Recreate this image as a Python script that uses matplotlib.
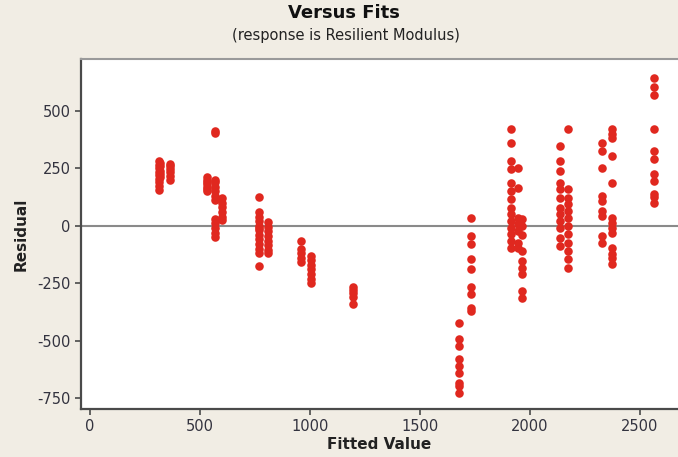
import matplotlib.pyplot as plt
import numpy as np

RED = "#e0281f"
BEIGE = "#f1ede4"
GREY = "#8a8a8a"
DARK = "#4a4a4a"

# fitted value of each column of points, and the residuals in that column
col_fits = [314, 318, 364,
            530, 568, 600,
            768, 809,
            960, 1004,
            1195,
            1677, 1732,
            1912, 1945, 1962,
            2136, 2173,
            2327, 2373,
            2564]
col_resid = [
    [280, 265, 250, 235, 220, 205, 190, 175, 155],
    [275, 258, 240, 225, 210],
    [270, 258, 245, 232, 215, 200],
    [210, 200, 190, 180, 170, 160, 150],
    [413, 405, 200, 190, 170, 150, 130, 110, 30, 10, -10, -30, -50],
    [120, 100, 80, 60, 40, 25],
    [126, 60, 40, 20, 0, -10, -20, -40, -60, -80, -100, -120, -174],
    [15, -5, -25, -45, -65, -85, -105, -118],
    [-65, -100, -120, -140, -160],
    [-130, -150, -170, -190, -210, -230, -250],
    [-265, -280, -295, -310, -340],
    [-423, -493, -523, -580, -611, -640, -685, -698, -728],
    [35, -44, -79, -144, -188, -266, -297, -358, -370],
    [419, 358, 283, 249, 188, 153, 118, 79, 52, 22, -9, -35, -65, -96],
    [253, 166, 35, 9, -22, -74, -96],
    [30, 0, -40, -110, -153, -183, -209, -283, -314],
    [349, 283, 240, 188, 161, 122, 79, 52, 22, -9, -52, -87],
    [423, 161, 122, 96, 65, 35, 0, -35, -74, -109, -144, -183],
    [362, 327, 253, 131, 109, 65, 44, -44, -74],
    [423, 401, 384, 305, 188, 35, 13, -9, -31, -96, -122, -140, -166],
    [645, 602, 567, 423, 327, 292, 227, 196, 140, 125, 100],
]
x_ticks = [0, 500, 1000, 1500, 2000, 2500]
y_ticks = [-750, -500, -250, 0, 250, 500]

fitted = np.concatenate([[f] * len(r) for f, r in zip(col_fits, col_resid)])
resid = np.concatenate(col_resid)

plt.rcParams["font.family"] = ["DejaVu Sans"]
plt.rcParams["axes.unicode_minus"] = False
fig = plt.figure(figsize=(6.78, 4.57), dpi=100)
fig.patch.set_facecolor(BEIGE)
ax = fig.add_axes([0.1195, 0.105, 0.8805, 0.766])
ax.set_facecolor("white")

ax.axhline(0, color=GREY, linewidth=1.5, zorder=1)
ax.scatter(fitted, resid, s=38, color=RED, linewidths=0, zorder=2)

ax.set_xlim(-41, 2673)
ax.set_ylim(-798, 726)
ax.set_xticks(x_ticks)
ax.set_yticks(y_ticks)
ax.tick_params(direction="out", length=4, width=1.2, color=DARK,
               labelsize=10.5, labelcolor="#33333f")

ax.spines["right"].set_visible(False)
ax.spines["top"].set_color("#9a9a9a")
ax.spines["top"].set_linewidth(1.5)
for side in ["left", "bottom"]:
    ax.spines[side].set_color(DARK)
    ax.spines[side].set_linewidth(1.6)

ax.set_xlabel("Fitted Value", fontsize=11, fontweight="bold", color="#222222", labelpad=2)
ax.set_ylabel("Residual", fontsize=11, fontweight="bold", color="#222222", labelpad=6)

fig.text(0.508, 0.972, "Versus Fits", ha="center", va="center",
         fontsize=13, fontweight="bold", color="#111111")
fig.text(0.51, 0.922, "(response is Resilient Modulus)", ha="center", va="center",
         fontsize=10.5, color="#222222")

fig.savefig("out.png", dpi=100, facecolor=BEIGE)
